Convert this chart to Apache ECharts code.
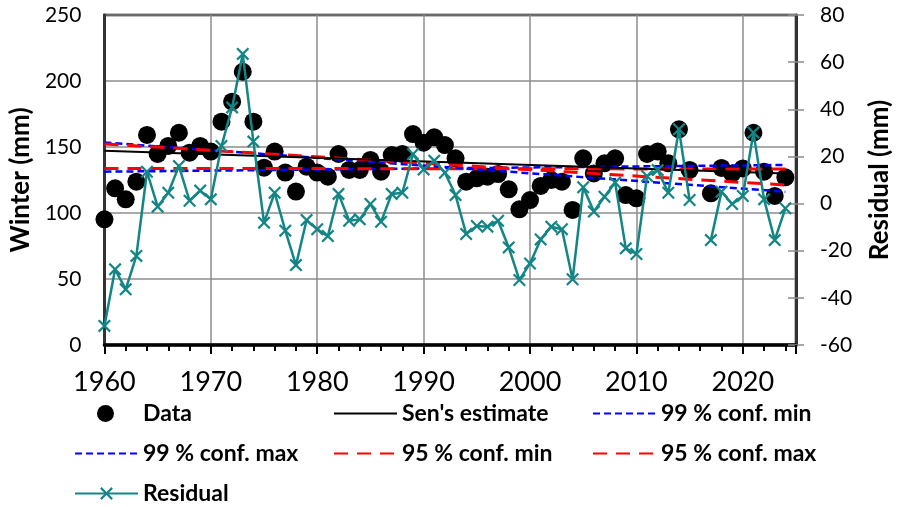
<!DOCTYPE html>
<html>
<head>
<meta charset="utf-8">
<script src="https://cdn.jsdelivr.net/npm/echarts@6/dist/echarts.min.js"></script>
<style>html,body{margin:0;padding:0;background:#fff}#c{width:903px;height:507px}</style>
</head>
<body>
<div id="c"></div>
<script>
const years = [];
for (let y = 1960; y <= 2024; y++) years.push(y);
const winter = [95.2,118.7,110.4,123.7,159.1,144.7,150.8,160.8,145.7,150.8,
146.5,169.2,184.3,207,169.2,134.3,146.5,130.6,116.2,135.1,
130.6,127.5,144.7,132.6,132.6,140.2,131.3,143.9,144.7,159.8,
153.3,157.3,151.5,141.4,123.7,126.3,127.5,129.5,117.9,102.8,
109.8,120.5,125,123.7,102.3,141.4,130,137.6,141.4,113.6,
111.1,144.7,146.5,137.6,163.4,132.6,null,114.9,134.1,130,
133.8,160.8,131.3,112.9,127];
const residual = [-51.9,-27.9,-36.4,-22.2,13.5,-1.3,4.6,15.9,1.2,5.5,
1.8,24.4,40.8,63.5,26.3,-8.1,4.6,-11.5,-26.1,-7,
-10.9,-13.8,4.1,-7.3,-6.7,-0.2,-7.7,4.1,4.6,21,
14.5,18.2,13.1,3.6,-12.9,-9.5,-9.8,-7.3,-18.6,-32.4,
-25.4,-15.2,-9.8,-10.9,-32.1,6.9,-3.4,2.9,8.9,-19,
-21.4,11.7,14.2,4.6,31.5,1.5,null,-15.5,5,-0.2,
3.2,30.1,1.8,-15.5,-2];
const lineYears = [1960, 2024];
const senEst = [147.2, 130.0];
const conf99min = [153.4, 116.1];
const conf95min = [152.3, 121.2];
const conf99max = [131.3, 136.4];
const conf95max = [133.8, 133.3];
const leftTicks = {min: 0, max: 250, step: 50};
const rightTicks = {min: -60, max: 80, step: 20};
const xTicks = {min: 1960, max: 2025, step: 10, minorStep: 2};

const pair = (xs, ys) => xs.map((x, i) => [x, ys[i] == null ? '-' : ys[i]]);
const FONT = 'Lato';
const X_PATH = 'path://M0,1.2L1.2,0L5,3.8L8.8,0L10,1.2L6.2,5L10,8.8L8.8,10L5,6.2L1.2,10L0,8.8L3.8,5Z';

const chart = echarts.init(document.getElementById('c'), null, {renderer: 'canvas'});
const TXT = {fontFamily: FONT, fontWeight: 'bold', fontSize: 23, color: '#000'};
const lg = (name, left, top, hideSymbol) => {
  const o = {
    data: [name], left: left, top: top, padding: 0, itemWidth: 63, itemHeight: 16,
    textStyle: Object.assign({}, TXT), selectedMode: false
  };
  if (hideSymbol) o.itemStyle = {opacity: 0};
  return o;
};
const dataLegend = {
  data: ['Data'], left: 97, top: 402, padding: 0, itemWidth: 17, itemHeight: 17,
  textStyle: Object.assign({padding: [0, 0, 0, 24]}, TXT), selectedMode: false
};
chart.setOption({
  animation: false,
  grid: {left: 103, top: 15, width: 693, height: 330, show: true, borderColor: '#000', borderWidth: 2.5, containLabel: false},
  xAxis: [{
    type: 'value', min: xTicks.min, max: xTicks.max, interval: xTicks.step,
    axisLine: {show: true, onZero: false, lineStyle: {color: '#000', width: 3.5}},
    axisTick: {show: true, length: 9, lineStyle: {color: '#000', width: 2}},
    axisLabel: {margin: 24, fontFamily: FONT, fontSize: 27, color: '#000',
      formatter: v => (v % 10 === 0 ? String(v) : '')},
    splitLine: {show: true, lineStyle: {color: '#8c8c8c', width: 1.5}}
  }, {
    type: 'value', min: xTicks.min, max: xTicks.max, interval: xTicks.minorStep, position: 'bottom',
    axisLine: {show: false, onZero: false},
    axisTick: {show: true, length: 6, lineStyle: {color: '#000', width: 2}},
    axisLabel: {show: false}, splitLine: {show: false}
  }],
  yAxis: [{
    type: 'value', min: leftTicks.min, max: leftTicks.max, interval: leftTicks.step,
    name: 'Winter (mm)', nameLocation: 'middle', nameGap: 68, nameRotate: 90,
    nameTextStyle: {fontFamily: FONT, fontWeight: 'bold', fontSize: 26, color: '#000'},
    axisLine: {show: true, onZero: false, lineStyle: {color: '#333', width: 3}},
    axisTick: {show: false},
    axisLabel: {margin: 23, fontFamily: FONT, fontSize: 21, color: '#000'},
    splitLine: {show: true, lineStyle: {color: '#8c8c8c', width: 1.5}}
  }, {
    type: 'value', min: rightTicks.min, max: rightTicks.max, interval: rightTicks.step, position: 'right',
    name: 'Residual (mm)', nameLocation: 'middle', nameGap: 71, nameRotate: 90,
    nameTextStyle: {fontFamily: FONT, fontWeight: 'bold', fontSize: 26, color: '#000'},
    axisLine: {show: true, onZero: false, lineStyle: {color: '#333', width: 3}},
    axisTick: {show: true, length: 8, lineStyle: {color: '#8c8c8c', width: 1.5}},
    axisLabel: {margin: 24, fontFamily: FONT, fontSize: 21, color: '#000'},
    splitLine: {show: false}
  }, {
    type: 'value', min: rightTicks.min, max: rightTicks.max, interval: rightTicks.step, position: 'right',
    axisLine: {show: false, onZero: false},
    axisTick: {show: true, inside: true, length: 8, lineStyle: {color: '#8c8c8c', width: 1.5}},
    axisLabel: {show: false}, splitLine: {show: false}
  }],
  legend: [
    dataLegend, lg("Sen's estimate", 333, 402, true), lg('99 % conf. min', 592, 402, true),
    lg('99 % conf. max', 74, 442, true), lg('95 % conf. min', 333, 442, true), lg('95 % conf. max', 592, 442, true),
    lg('Residual', 74, 482, false)
  ],
  series: [
    {name: '99 % conf. max', type: 'line', data: pair(lineYears, conf99max), symbol: 'none',
      lineStyle: {color: '#0000ff', width: 2.5, type: [7, 4]}, itemStyle: {color: '#0000ff'}},
    {name: '95 % conf. max', type: 'line', data: pair(lineYears, conf95max), symbol: 'none',
      lineStyle: {color: '#ff0000', width: 3, type: [14, 9]}, itemStyle: {color: '#ff0000'}},
    {name: '99 % conf. min', type: 'line', data: pair(lineYears, conf99min), symbol: 'none',
      lineStyle: {color: '#0000ff', width: 2.5, type: [7, 4]}, itemStyle: {color: '#0000ff'}},
    {name: '95 % conf. min', type: 'line', data: pair(lineYears, conf95min), symbol: 'none',
      lineStyle: {color: '#ff0000', width: 3, type: [14, 9]}, itemStyle: {color: '#ff0000'}},
    {name: "Sen's estimate", type: 'line', data: pair(lineYears, senEst), symbol: 'none',
      lineStyle: {color: '#000', width: 2}, itemStyle: {color: '#000'}},
    {name: 'Data', type: 'scatter', data: pair(years, winter).filter(d => d[1] !== '-'),
      symbol: 'circle', symbolSize: 18, itemStyle: {color: '#000', opacity: 1}},
    {name: 'Residual', type: 'line', yAxisIndex: 1, data: pair(years, residual), connectNulls: false,
      symbol: X_PATH, symbolSize: 13, showAllSymbol: true,
      lineStyle: {color: '#138585', width: 2.5}, itemStyle: {color: '#138585'}}
  ]
});
</script>
</body>
</html>
